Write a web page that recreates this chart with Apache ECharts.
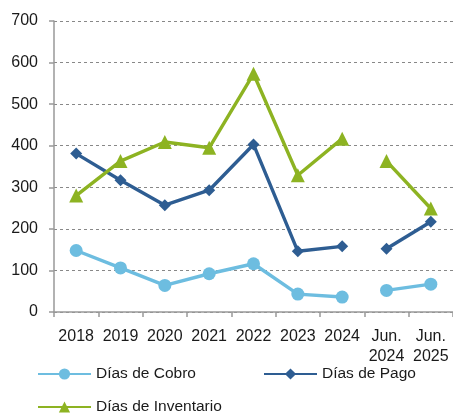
<!DOCTYPE html>
<html><head><meta charset="utf-8">
<script src="https://cdn.jsdelivr.net/npm/echarts@6/dist/echarts.min.js"></script>
<style>html,body{margin:0;padding:0;background:#fff}#c{width:453px;height:413px}</style>
</head><body><div id="c"></div>
<script>
const categories = ['2018','2019','2020','2021','2022','2023','2024','Jun.\n2024','Jun.\n2025'];
const yTicks = [0,100,200,300,400,500,600,700];
const cobro = [148,106,64,92,116,43,36,52,67];
const pago = [381,317,257,293,403,146,158,152,217];
const inventario = [280,363,409,395,573,329,417,363,249];
const splitAt = 7; // gap between annual and June periods

function part(arr, first){
  return arr.map((v,i)=> (first ? (i<splitAt ? v : null) : (i>=splitAt ? v : null)));
}
const C1='#6DBDE0', C2='#2E5D92', C3='#8DB322';
const font = 'Liberation Sans, Arial, sans-serif';
function mk(name, arr, color, symbol, size){
  return [true,false].map(f=>({
    name, type:'line', data: part(arr,f), color,
    symbol, symbolSize:size, connectNulls:false,
    lineStyle:{width:3.4,color}, itemStyle:{color}, animation:false
  }));
}
const chart = echarts.init(document.getElementById('c'));
const lg = (name,left,top)=>({data:[name],left,top,itemWidth:53,itemHeight:14,
  textStyle:{fontFamily:font,fontSize:15.5,color:'#1a1a1a'},padding:0});
chart.setOption({
  animation:false,
  grid:{left:54,right:-1,top:21,bottom:101,containLabel:false},
  legend:[lg('Días de Cobro',37,366), lg('Días de Pago',263,366), lg('Días de Inventario',37,399)],
  xAxis:{type:'category',data:categories,boundaryGap:true,
    axisLine:{lineStyle:{color:'#999',width:1.5}},
    axisTick:{show:true,inside:false,length:5,lineStyle:{color:'#999',width:1.5}},
    axisLabel:{fontFamily:font,fontSize:16,color:'#1a1a1a',margin:15,lineHeight:20,interval:0}},
  yAxis:{type:'value',min:yTicks[0],max:yTicks[yTicks.length-1],interval:100,
    axisLine:{show:true,lineStyle:{color:'#999',width:1.5}},
    axisTick:{show:true,length:5,lineStyle:{color:'#999',width:1.5}},
    axisLabel:{fontFamily:font,fontSize:16,color:'#1a1a1a',margin:16},
    splitLine:{lineStyle:{type:[3,3],color:'#888',width:1}}},
  series:[...mk('Días de Cobro',cobro,C1,'circle',13),
          ...mk('Días de Pago',pago,C2,'diamond',12),
          ...mk('Días de Inventario',inventario,C3,'triangle',14)]
});
</script></body></html>
